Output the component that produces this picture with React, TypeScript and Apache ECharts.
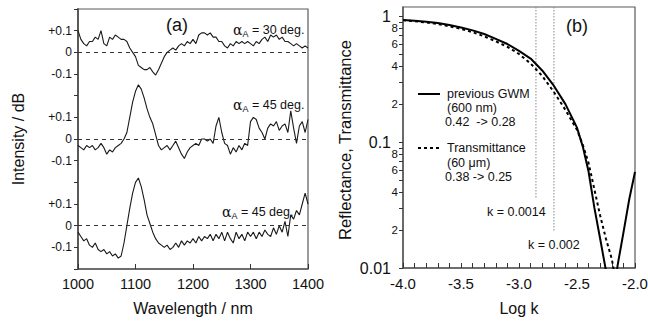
import React, { useEffect, useRef } from "react";
import * as echarts from "echarts";

const FONT = "'Liberation Sans', Arial, Helvetica, sans-serif";

// ---- Panel (a) data ----
const wavelengths = [
  1000, 1005, 1010, 1015, 1020, 1025, 1030, 1035, 1040, 1045, 1050, 1055, 1060, 1065, 1070, 1075, 1080,
  1085, 1090, 1095, 1100, 1105, 1110, 1115, 1120, 1125, 1130, 1135, 1140, 1145, 1150, 1155, 1160, 1165,
  1170, 1175, 1180, 1185, 1190, 1195, 1200, 1205, 1210, 1215, 1220, 1225, 1230, 1235, 1240, 1245, 1250,
  1255, 1260, 1265, 1270, 1275, 1280, 1285, 1290, 1295, 1300, 1305, 1310, 1315, 1320, 1325, 1330, 1335,
  1340, 1345, 1350, 1355, 1360, 1365, 1370, 1375, 1380, 1385, 1390, 1395, 1400,
];
const traceAlpha30 = [
  0.10, 0.06, 0.04, 0.03, 0.05, 0.05, 0.07, 0.06, 0.10, 0.04, 0.03, 0.07, 0.06, 0.08, 0.07, 0.06, 0.06,
  0.05, 0.02, 0.00, -0.02, -0.06, -0.07, -0.08, -0.08, -0.07, -0.09, -0.105, -0.08, -0.05, -0.02, 0.00,
  0.01, 0.02, 0.01, 0.03, 0.04, 0.03, 0.05, 0.04, 0.06, 0.04, 0.08, 0.09, 0.09, 0.08, 0.09, 0.07, 0.07,
  0.05, 0.05, 0.03, 0.02, 0.04, 0.03, 0.05, 0.04, 0.05, 0.04, 0.05, 0.04, 0.03, 0.05, 0.04, 0.06, 0.07,
  0.05, 0.08, 0.07, 0.08, 0.06, 0.07, 0.05, 0.05, 0.04, 0.03, 0.04, 0.03, 0.02, 0.03, 0.02, 0.00,
];
const traceAlpha45a = [
  -0.03, -0.04, -0.05, -0.03, -0.04, -0.03, -0.05, -0.04, -0.02, -0.04, -0.07, -0.05, -0.06, -0.04,
  -0.03, -0.02, 0.00, 0.03, 0.10, 0.17, 0.22, 0.25, 0.23, 0.19, 0.14, 0.10, 0.07, 0.02, -0.03, -0.05,
  -0.04, -0.03, -0.05, -0.03, -0.01, -0.04, -0.07, -0.09, -0.06, -0.04, -0.03, -0.02, -0.03, 0.00, 0.00,
  -0.01, 0.00, -0.02, 0.06, 0.10, 0.03, -0.02, -0.03, -0.07, -0.04, -0.06, -0.03, -0.05, -0.02, -0.03,
  0.08, 0.10, 0.09, 0.05, 0.03, 0.00, 0.05, 0.07, 0.06, 0.08, 0.04, 0.06, 0.07, 0.03, 0.13, 0.05, -0.02,
  0.06, 0.08, 0.03, 0.09,
];
const traceAlpha45b = [
  -0.03, -0.05, -0.07, -0.06, -0.09, -0.10, -0.08, -0.11, -0.12, -0.11, -0.13, -0.12, -0.14, -0.13,
  -0.15, -0.14, -0.08, 0.00, 0.08, 0.15, 0.20, 0.22, 0.18, 0.12, 0.05, 0.01, -0.03, -0.06, -0.08, -0.09,
  -0.10, -0.09, -0.11, -0.10, -0.08, -0.10, -0.07, -0.09, -0.07, -0.08, -0.06, -0.08, -0.05, -0.07,
  -0.05, -0.06, -0.04, -0.07, -0.04, -0.06, -0.03, -0.07, -0.03, -0.06, -0.08, -0.03, -0.06, -0.04,
  -0.07, -0.03, -0.05, -0.03, -0.06, -0.03, -0.05, -0.02, -0.04, -0.05, -0.01, -0.04, 0.00, -0.03, 0.02,
  -0.05, 0.05, 0.03, 0.07, 0.05, 0.10, 0.15, 0.10,
];
const traceOffsets = [0.8, 0.4, 0];
const traceLabels = ["30", "45", "45"];
const leftTickLabels = ["", "-0.1", "0", "+0.1", "", "-0.1", "0", "+0.1", "", "-0.1", "0", "+0.1", ""];

// ---- Panel (b) data ----
const logK = [
  -4.0, -3.9, -3.8, -3.7, -3.6, -3.5, -3.4, -3.3, -3.2, -3.1, -3.0, -2.9, -2.8, -2.7, -2.6, -2.5, -2.45,
  -2.4, -2.35, -2.3, -2.25, -2.2, -2.15, -2.1, -2.05, -2.0,
];
const reflectanceGWM = [
  0.93, 0.92, 0.90, 0.88, 0.85, 0.81, 0.77, 0.72, 0.66, 0.60, 0.53, 0.46, 0.37, 0.28, 0.20, 0.13, 0.092,
  0.058, 0.030, 0.017, 0.0095, 0.004, 0.0105, 0.019, 0.035, 0.058,
];
const transmittance = [
  0.925, 0.91, 0.89, 0.865, 0.83, 0.79, 0.745, 0.69, 0.63, 0.57, 0.50, 0.42, 0.335, 0.25, 0.18, 0.125,
  0.095, 0.068, 0.042, 0.026, 0.017, 0.0118, 0.0065,
];
const kMarkers = [0.0014, 0.002];
const kMarkerLow = [0.036, 0.0197];
const kMarkerText = ["k = 0.0014", "k = 0.002"];
const logKTicks = [
  -4.0, -3.9, -3.8, -3.7, -3.6, -3.5, -3.4, -3.3, -3.2, -3.1, -3.0, -2.9, -2.8, -2.7, -2.6, -2.5, -2.4,
  -2.3, -2.2, -2.1, -2.0,
];
const logKLabels = [-4.0, -3.5, -3.0, -2.5, -2.0];
const rightTickValues = [
  0.01, 0.02, 0.03, 0.04, 0.05, 0.06, 0.07, 0.08, 0.09, 0.1, 0.2, 0.3, 0.4, 0.5, 0.6, 0.7, 0.8, 0.9, 1,
];
const rightLabelValues = [0.01, 0.02, 0.04, 0.06, 0.08, 0.1, 0.2, 0.4, 0.6, 0.8, 1];
const rightLabelTexts = ["0.01", "2", "4", "6", "8", "0.1", "2", "4", "6", "8", "1"];
const rightYMax = 0.072; // log10 of top of axis (~1.18)

const AXIS_COLOR = "#5a5a5a";
const INK = "#111";

function buildOption(): any {
  const leftSeries = [traceAlpha30, traceAlpha45a, traceAlpha45b].map((tr, i) => ({
    type: "line",
    xAxisIndex: 0,
    yAxisIndex: 0,
    symbol: "none",
    lineStyle: { color: "#1a1a1a", width: 1.1 },
    data: tr.map((v, j) => [wavelengths[j], v + traceOffsets[i]]),
    markLine: {
      silent: true,
      symbol: ["none", "none"],
      label: { show: false },
      lineStyle: { color: "#333", width: 1, type: [4, 4] },
      data: [{ yAxis: traceOffsets[i] }],
    },
    z: 3,
  }));

  const rightSeries: any[] = [
    {
      type: "line",
      xAxisIndex: 1,
      yAxisIndex: 1,
      symbol: "none",
      lineStyle: { color: "#000", width: 2 },
      data: reflectanceGWM.map((v, j) => [logK[j], Math.log10(v)]),
      z: 4,
    },
    {
      type: "line",
      xAxisIndex: 1,
      yAxisIndex: 1,
      symbol: "none",
      lineStyle: { color: "#000", width: 2, type: [3, 3] },
      data: transmittance.map((v, j) => [logK[j], Math.log10(v)]),
      z: 4,
    },
  ];
  kMarkers.forEach((k, i) => {
    rightSeries.push({
      type: "line",
      xAxisIndex: 1,
      yAxisIndex: 1,
      symbol: "none",
      lineStyle: { color: "#8a8a8a", width: 1, type: [1.5, 1.5] },
      data: [
        [Math.log10(k), rightYMax],
        [Math.log10(k), Math.log10(kMarkerLow[i])],
      ],
      z: 2,
    });
  });

  const text = (x: number, y: number, t: string, size: number, align = "left", extra: any = {}) => ({
    type: "text",
    x,
    y,
    z: 10,
    ...extra,
    style: {
      text: t,
      fontSize: size,
      fontFamily: FONT,
      fill: INK,
      align,
      verticalAlign: "middle",
      ...(extra.style || {}),
    },
  });

  const alphaLabel = (x: number, y: number, deg: string) => ({
    type: "text",
    x,
    y,
    z: 10,
    style: {
      text: `{g|α}{s|A}{t| = ${deg} deg.}`,
      fontFamily: FONT,
      fill: INK,
      align: "left",
      verticalAlign: "middle",
      rich: {
        g: { fontSize: 14, fontFamily: "'DejaVu Serif', serif", fill: INK, verticalAlign: "middle", lineHeight: 16 },
        s: { fontSize: 9, fontFamily: FONT, fill: INK, verticalAlign: "bottom", lineHeight: 16, padding: [6, 0, 0, 0] },
        t: { fontSize: 12.5, fontFamily: FONT, fill: INK, verticalAlign: "middle", lineHeight: 16 },
      },
    },
  });

  const graphic: any[] = [
    text(177, 25, "(a)", 18, "center"),
    text(577, 26, "(b)", 18, "center"),
    alphaLabel(233, 30, traceLabels[0]),
    alphaLabel(233, 105, traceLabels[1]),
    alphaLabel(222, 212, traceLabels[2]),
    text(18, 139, "Intensity / dB", 16, "center", { rotation: Math.PI / 2 }),
    text(193, 308, "Wavelength / nm", 16, "center"),
    text(345, 140, "Reflectance, Transmittance", 16.5, "center", { rotation: Math.PI / 2 }),
    text(519, 308, "Log k", 16, "center"),
    {
      type: "line",
      z: 10,
      shape: { x1: 418, y1: 94, x2: 440, y2: 94 },
      style: { stroke: "#000", lineWidth: 2 },
    },
    text(447, 94, "previous GWM", 12.5),
    text(447, 108, "(600 nm)", 12.5),
    text(445, 122, "0.42  -> 0.28", 12.5),
    {
      type: "line",
      z: 10,
      shape: { x1: 418, y1: 148, x2: 441, y2: 148 },
      style: { stroke: "#000", lineWidth: 2, lineDash: [3, 3] },
    },
    text(447, 148, "Transmittance", 12.5),
    text(447, 163, "(60 μm)", 12.5),
    text(445, 177, "0.38 -> 0.25", 12.5),
    text(487, 212, kMarkerText[0], 12.5),
    text(528, 245, kMarkerText[1], 12.5),
  ];

  const findLabel = (v: number) => {
    for (let i = 0; i < rightLabelValues.length; i++) {
      if (Math.abs(Math.log10(rightLabelValues[i]) - v) < 1e-6) {
        const t = rightLabelTexts[i];
        return t.indexOf(".") >= 0 || t === "1" ? `{big|${t}}` : `{small|${t}}`;
      }
    }
    return "";
  };

  return {
    animation: false,
    backgroundColor: "#fff",
    textStyle: { fontFamily: FONT, color: INK },
    grid: [
      {
        left: 78,
        top: 9,
        width: 230,
        height: 260,
        show: true,
        borderColor: AXIS_COLOR,
        borderWidth: 1.2,
        containLabel: false,
        outerBoundsMode: "none",
      },
      {
        left: 403,
        top: 7,
        width: 232,
        height: 261,
        show: true,
        borderColor: AXIS_COLOR,
        borderWidth: 1.2,
        containLabel: false,
        outerBoundsMode: "none",
      },
    ],
    xAxis: [
      {
        gridIndex: 0,
        type: "value",
        min: 1000,
        max: 1400,
        interval: 100,
        axisLine: { show: true, onZero: false, lineStyle: { color: AXIS_COLOR, width: 1.5 } },
        axisTick: { show: true, inside: true, length: 5, lineStyle: { color: "#333" } },
        axisLabel: {
          fontSize: 14.5,
          color: INK,
          margin: 7,
          fontFamily: FONT,
          showMinLabel: true,
          showMaxLabel: true,
          hideOverlap: false,
          formatter: (v: number) => String(Math.round(v)),
        },
        splitLine: { show: false },
      },
      {
        gridIndex: 1,
        type: "value",
        min: -4,
        max: -2,
        interval: 0.5,
        axisLine: { show: true, onZero: false, lineStyle: { color: AXIS_COLOR, width: 1.5 } },
        axisTick: {
          show: true,
          inside: true,
          length: 5,
          customValues: logKTicks,
          lineStyle: { color: "#333" },
        },
        axisLabel: {
          fontSize: 15,
          color: INK,
          margin: 8,
          fontFamily: FONT,
          customValues: logKLabels,
          showMinLabel: true,
          showMaxLabel: true,
          hideOverlap: false,
          formatter: (v: number) => v.toFixed(1),
        },
        splitLine: { show: false },
      },
    ],
    yAxis: [
      {
        gridIndex: 0,
        type: "value",
        min: -0.2,
        max: 1.0,
        interval: 0.1,
        axisLine: { show: true, onZero: false, lineStyle: { color: AXIS_COLOR, width: 2 } },
        axisTick: { show: true, inside: false, length: 4, lineStyle: { color: "#333" } },
        axisLabel: {
          fontSize: 12,
          color: INK,
          margin: 6,
          fontFamily: FONT,
          hideOverlap: false,
          formatter: (v: number) => leftTickLabels[Math.round((v + 0.2) * 10)] ?? "",
        },
        splitLine: { show: false },
      },
      {
        gridIndex: 1,
        type: "value",
        min: -2,
        max: rightYMax,
        axisLine: { show: true, onZero: false, lineStyle: { color: AXIS_COLOR, width: 1.5 } },
        axisTick: {
          show: true,
          inside: false,
          length: 4,
          customValues: rightTickValues.map((v) => Math.log10(v)),
          lineStyle: { color: "#333" },
        },
        axisLabel: {
          customValues: rightLabelValues.map((v) => Math.log10(v)),
          formatter: (v: number) => findLabel(v),
          margin: 5,
          showMinLabel: true,
          showMaxLabel: true,
          hideOverlap: false,
          rich: {
            big: { fontSize: 16, fontFamily: FONT, color: INK, padding: [0, 7, 0, 0] },
            small: { fontSize: 11.5, fontFamily: FONT, color: INK },
          },
        },
        splitLine: { show: false },
      },
    ],
    series: [...leftSeries, ...rightSeries],
    graphic,
  };
}

export default function App() {
  const ref = useRef<HTMLDivElement>(null);
  useEffect(() => {
    document.body.style.margin = "0";
    if (!ref.current) return;
    const chart = echarts.init(ref.current, undefined, { renderer: "svg" });
    chart.setOption(buildOption());
    return () => chart.dispose();
  }, []);
  return <div ref={ref} style={{ width: 648, height: 323 }} />;
}
